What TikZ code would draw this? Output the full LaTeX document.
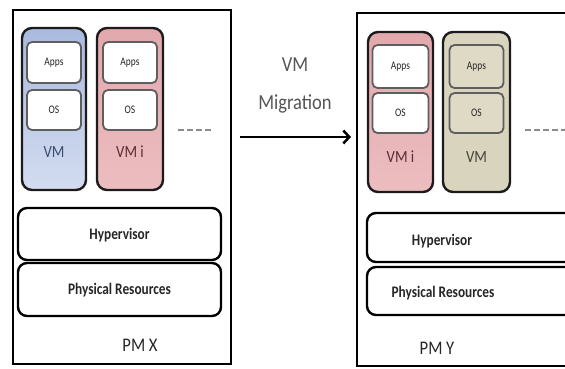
\documentclass[tikz,border=0pt]{standalone}
\usepackage{fontspec}
\setmainfont{Carlito}
\usepackage{graphicx}
\usetikzlibrary{arrows.meta}
\definecolor{vmblueT}{HTML}{A9BADF}
\definecolor{vmblueB}{HTML}{D3DCF0}
\definecolor{vmredT}{HTML}{E2A9AD}
\definecolor{vmredB}{HTML}{ECBDC0}
\definecolor{vmtan}{HTML}{D9D4BE}
\definecolor{innertan}{HTML}{DEDAC6}
\definecolor{bordk}{HTML}{1C1A1A}
\definecolor{innerbd}{HTML}{5E5E5E}
\definecolor{txtblue}{HTML}{3B4C73}
\definecolor{txtred}{HTML}{5C2B30}
\definecolor{txttan}{HTML}{45443C}
\definecolor{txtgray}{HTML}{555555}
\tikzset{
  pmbox/.style={draw=black, line width=2.3pt, inner sep=0pt},
  vmbox/.style={draw=bordk, line width=2.4pt, rounded corners=10pt, inner sep=0pt},
  inbox/.style={draw=innerbd, line width=1.8pt, rounded corners=5pt, inner sep=0pt, fill=white, minimum width=54pt, minimum height=41pt},
  layerbox/.style={draw=black, line width=2.4pt, rounded corners=9pt, inner sep=0pt, fill=white},
  smalltxt/.style={font=\fontsize{10.5}{10.5}\selectfont, text=black!85},
  vmtxt/.style={font=\fontsize{15.5}{15.5}\selectfont},
  layertxt/.style={font=\bfseries\fontsize{14}{14}\selectfont, text=black!85},
  pmtxt/.style={font=\fontsize{17.5}{17.5}\selectfont, text=black!85},
  migtxt/.style={font=\fontsize{19.5}{19.5}\selectfont, text=txtgray},
  dashline/.style={draw=black!45, line width=1.6pt, dash pattern=on 6pt off 3pt},
}
\begin{document}
\begin{tikzpicture}[x=1pt,y=-1pt]
\useasboundingbox (0,0) rectangle (565,369);
\clip (0,0) rectangle (565,369);
% ---- PM X ----
\node[pmbox, minimum width=218pt, minimum height=354pt] (pmx) at (122,187) {};
\node[vmbox, top color=vmblueT, bottom color=vmblueB, minimum width=64pt, minimum height=162pt] (vma) at (54,109) {};
\node[inbox] (appsa) at (54,62.5) {};
\node[smalltxt] (appsat) at (54,62.5) {\scalebox{0.9}[1.1]{Apps}};
\node[inbox, minimum height=40pt] (osa) at (54,110) {};
\node[smalltxt] (osat) at (54,110) {\scalebox{0.9}[1.1]{OS}};
\node[vmtxt, text=txtblue] (vmat) at (54,152) {\scalebox{0.95}[1.1]{VM}};
\node[vmbox, top color=vmredT, bottom color=vmredB, minimum width=66pt, minimum height=162pt] (vmb) at (130,109) {};
\node[inbox] (appsb) at (130,62.5) {};
\node[smalltxt] (appsbt) at (130,62.5) {\scalebox{0.9}[1.1]{Apps}};
\node[inbox, minimum height=40pt] (osb) at (130,110) {};
\node[smalltxt] (osbt) at (130,110) {\scalebox{0.9}[1.1]{OS}};
\node[vmtxt, text=txtred] (vmbt) at (130,152) {\scalebox{0.95}[1.1]{VM i}};
\coordinate (dxa1) at (178,130);
\coordinate (dxa2) at (212,130);
\draw[dashline] (dxa1) -- (dxa2);
\node[layerbox, minimum width=203pt, minimum height=52pt] (hypa) at (119.5,234) {};
\node[layertxt] (hypat) at (119.5,235) {\scalebox{0.95}[1.15]{Hypervisor}};
\node[layerbox, minimum width=203pt, minimum height=53pt] (phya) at (119.5,289.5) {};
\node[layertxt] (phyat) at (119.5,290) {\scalebox{0.95}[1.15]{Physical Resources}};
\node[pmtxt] (pmxt) at (140,345) {\scalebox{0.95}[1.1]{PM X}};
% ---- migration ----
\node[migtxt] (migvm) at (295,65) {\scalebox{0.95}[1.1]{VM}};
\node[migtxt] (migtx) at (295,104) {\scalebox{0.95}[1.1]{Migration}};
\coordinate (miga) at (240,137);
\coordinate (migb) at (351,137);
\draw[line width=2.5pt, -{Straight Barb[length=6pt,width=13pt]}] (miga) -- (migb);
% ---- PM Y ----
\node[pmbox, minimum width=235pt, minimum height=353pt] (pmy) at (474.5,189.5) {};
\node[vmbox, top color=vmredT, bottom color=vmredB, minimum width=65pt, minimum height=160pt] (vmc) at (400.5,112) {};
\node[inbox, minimum width=56pt, minimum height=43pt] (appsc) at (400.5,66.5) {};
\node[smalltxt] (appsct) at (400.5,66.5) {\scalebox{0.9}[1.1]{Apps}};
\node[inbox, minimum width=56pt, minimum height=40pt] (osc) at (400.5,113) {};
\node[smalltxt] (osct) at (400.5,113) {\scalebox{0.9}[1.1]{OS}};
\node[vmtxt, text=txtred] (vmct) at (400.5,157) {\scalebox{0.95}[1.1]{VM i}};
\node[vmbox, fill=vmtan, minimum width=67pt, minimum height=160pt] (vmd) at (476.5,112) {};
\node[inbox, fill=innertan, minimum width=54pt, minimum height=43pt] (appsd) at (476.5,66.5) {};
\node[smalltxt] (appsdt) at (476.5,66.5) {\scalebox{0.9}[1.1]{Apps}};
\node[inbox, fill=innertan, minimum width=54pt, minimum height=40pt] (osd) at (476.5,113) {};
\node[smalltxt] (osdt) at (476.5,113) {\scalebox{0.9}[1.1]{OS}};
\node[vmtxt, text=txttan] (vmdt) at (476.5,157) {\scalebox{0.95}[1.1]{VM}};
\coordinate (dxb1) at (525,130);
\coordinate (dxb2) at (566,130);
\draw[dashline] (dxb1) -- (dxb2);
\node[layerbox, minimum width=223pt, minimum height=49pt] (hypb) at (478.5,237.5) {};
\node[layertxt] (hypbt) at (442,241) {\scalebox{0.95}[1.15]{Hypervisor}};
\node[layerbox, minimum width=223pt, minimum height=48pt] (phyb) at (478.5,291) {};
\node[layertxt] (phybt) at (443,293) {\scalebox{0.95}[1.15]{Physical Resources}};
\node[pmtxt] (pmyt) at (437,348) {\scalebox{0.95}[1.1]{PM Y}};
\end{tikzpicture}
\end{document}
